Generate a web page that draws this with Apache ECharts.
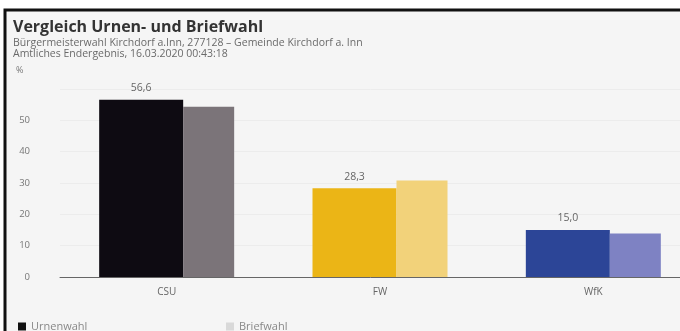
<!DOCTYPE html>
<html><head><meta charset="utf-8">
<script src="https://cdn.jsdelivr.net/npm/echarts@6/dist/echarts.min.js"></script>
<style>html,body{margin:0;padding:0;background:#fff}#c{width:680px;height:331px}</style>
</head><body><div id="c"></div>
<script>
const categories = ['CSU', 'FW', 'WfK'];
const urnenwahl = [56.6, 28.3, 15.0];
const briefwahl = [54.3, 30.8, 13.9];
const urneColors = ['#0e0b12', '#ebb516', '#2c4597'];
const briefColors = ['#7b7479', '#f2d27a', '#7e82c3'];
const yTicks = [0, 10, 20, 30, 40, 50];

const chart = echarts.init(document.getElementById('c'), null, {renderer: 'canvas'});
const font = '"Open Sans", "Noto Sans", sans-serif';
chart.setOption({
  backgroundColor: '#ffffff',
  animation: false,
  textStyle: {fontFamily: font},
  graphic: [
    {type: 'rect', shape: {x: 5, y: 10, width: 680, height: 331}, style: {fill: '#f5f5f5', stroke: '#111', lineWidth: 3}, z: -10},
    {type: 'text', left: 13, top: 19, style: {text: 'Vergleich Urnen- und Briefwahl', font: 'bold 16px ' + font, fill: '#333'}},
    {type: 'text', left: 13, top: 38, style: {text: 'Bürgermeisterwahl Kirchdorf a.Inn, 277128 – Gemeinde Kirchdorf a. Inn', font: '10.5px ' + font, fill: '#6a6a6a'}},
    {type: 'text', left: 13, top: 49, style: {text: 'Amtliches Endergebnis, 16.03.2020 00:43:18', font: '10.5px ' + font, fill: '#6a6a6a'}},
    {type: 'text', left: 16, top: 66, style: {text: '%', font: '9px ' + font, fill: '#777'}}
  ],
  legend: [
    {data: ['Urnenwahl'], left: 13, top: 316, itemWidth: 8, itemHeight: 8, itemGap: 6, icon: 'rect', textStyle: {fontSize: 11, color: '#888', fontFamily: font}},
    {data: ['Briefwahl'], left: 221, top: 316, itemWidth: 8, itemHeight: 8, icon: 'rect', textStyle: {fontSize: 11, color: '#888', fontFamily: font}}
  ],
  grid: {left: 60, top: 89, width: 640, bottom: 54, outerBoundsMode: 'none', containLabel: false},
  xAxis: {
    type: 'category', data: categories,
    axisLine: {lineStyle: {color: '#666', width: 1}},
    axisTick: {show: false},
    axisLabel: {color: '#666', fontSize: 10, margin: 10, fontFamily: font}
  },
  yAxis: {
    type: 'value', min: 0, max: 60, interval: 10,
    axisLabel: {color: '#777', fontSize: 9.5, margin: 30, showMaxLabel: false, fontFamily: font,
      formatter: v => yTicks.includes(v) ? String(v) : ''},
    splitLine: {lineStyle: {color: '#ececec', width: 1}},
    axisLine: {show: false}, axisTick: {show: false}
  },
  series: [
    {name: 'Urnenwahl', type: 'bar', barWidth: 84, barGap: '0%',
      itemStyle: {color: '#111'},
      data: urnenwahl.map((v, i) => ({value: v, itemStyle: {color: urneColors[i]}})),
      label: {show: true, position: 'top', distance: 6, color: '#666', fontSize: 10.5, fontFamily: font,
        formatter: p => p.value.toFixed(1).replace('.', ',')}},
    {name: 'Briefwahl', type: 'bar', barWidth: 51, barGap: '0%',
      itemStyle: {color: '#d9d9d9'},
      data: briefwahl.map((v, i) => ({value: v, itemStyle: {color: briefColors[i]}}))}
  ]
});
</script></body></html>
